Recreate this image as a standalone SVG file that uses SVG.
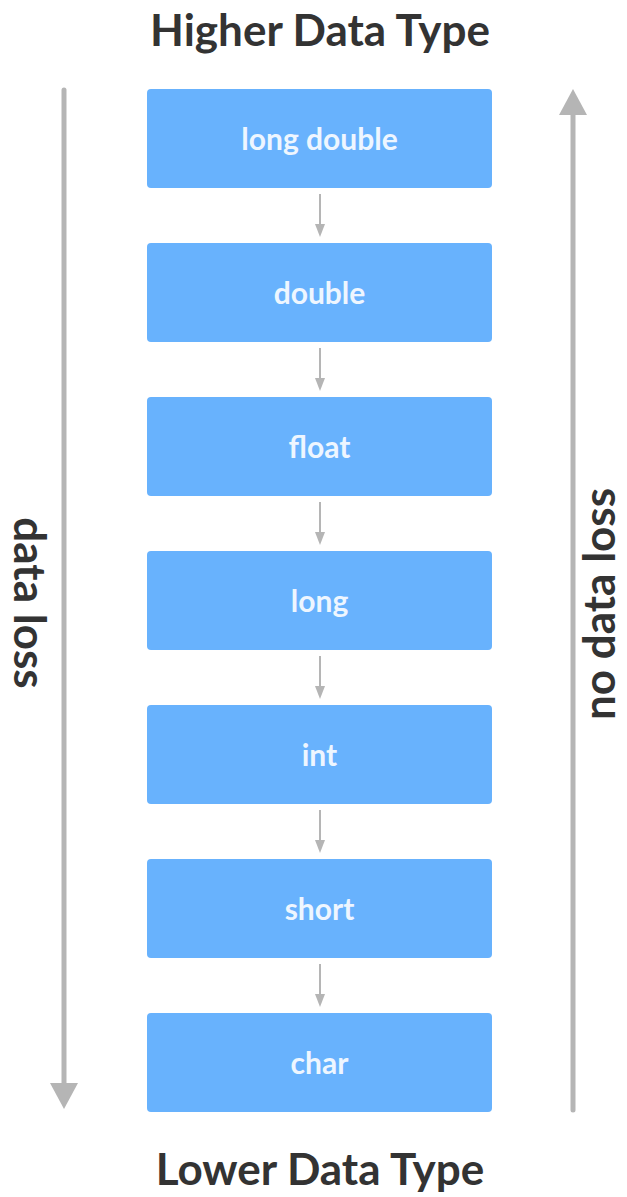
<svg xmlns="http://www.w3.org/2000/svg" width="627" height="1197" viewBox="0 0 627 1197">
  <defs>
    <style>
      .title { font-family: Lato, "Liberation Sans", sans-serif; font-weight: 700; font-size: 44px; fill: #333333; text-anchor: middle; }
      .side { font-family: Lato, "Liberation Sans", sans-serif; font-weight: 700; font-size: 44px; fill: #333333; text-anchor: middle; }
      .box { fill: #68b2fd; }
      .label { font-family: Lato, "Liberation Sans", sans-serif; font-weight: 700; font-size: 30px; fill: #eef6ff; text-anchor: middle; }
      .rail { stroke: #b5b5b5; stroke-width: 5; stroke-linecap: round; fill: none; }
      .step { stroke: #b5b5b5; stroke-width: 2; fill: none; }
      .head { fill: #b5b5b5; }
    </style>
  </defs>

  <text class="title" x="320" y="46">Higher Data Type</text>
  <text class="title" x="320" y="1185">Lower Data Type</text>

  <g id="connectors">
    <!-- long rails at the sides -->
    <line class="rail" x1="64" y1="90" x2="64" y2="1085"/>
    <polygon class="head" points="50,1083 78,1083 64,1109"/>
    <line class="rail" x1="573" y1="113" x2="573" y2="1110"/>
    <polygon class="head" points="559,115 587,115 573,89"/>

    <!-- small arrows between boxes -->
    <g>
      <line class="step" x1="320" y1="194" x2="320" y2="226"/>
      <polygon class="head" points="315,224 325,224 320,237"/>
      <line class="step" x1="320" y1="348" x2="320" y2="380"/>
      <polygon class="head" points="315,378 325,378 320,391"/>
      <line class="step" x1="320" y1="502" x2="320" y2="534"/>
      <polygon class="head" points="315,532 325,532 320,545"/>
      <line class="step" x1="320" y1="656" x2="320" y2="688"/>
      <polygon class="head" points="315,686 325,686 320,699"/>
      <line class="step" x1="320" y1="810" x2="320" y2="842"/>
      <polygon class="head" points="315,840 325,840 320,853"/>
      <line class="step" x1="320" y1="964" x2="320" y2="996"/>
      <polygon class="head" points="315,994 325,994 320,1007"/>
    </g>
  </g>

  <g id="n-long-double">
    <rect class="box" x="147" y="89" width="345" height="99" rx="4"/>
    <text class="label" x="319.5" y="150">long double</text>
  </g>
  <g id="n-double">
    <rect class="box" x="147" y="243" width="345" height="99" rx="4"/>
    <text class="label" x="319.5" y="304">double</text>
  </g>
  <g id="n-float">
    <rect class="box" x="147" y="397" width="345" height="99" rx="4"/>
    <text class="label" x="319.5" y="458">float</text>
  </g>
  <g id="n-long">
    <rect class="box" x="147" y="551" width="345" height="99" rx="4"/>
    <text class="label" x="319.5" y="612">long</text>
  </g>
  <g id="n-int">
    <rect class="box" x="147" y="705" width="345" height="99" rx="4"/>
    <text class="label" x="319.5" y="766">int</text>
  </g>
  <g id="n-short">
    <rect class="box" x="147" y="859" width="345" height="99" rx="4"/>
    <text class="label" x="319.5" y="920">short</text>
  </g>
  <g id="n-char">
    <rect class="box" x="147" y="1013" width="345" height="99" rx="4"/>
    <text class="label" x="319.5" y="1074">char</text>
  </g>

  <text class="side" transform="translate(14,603) rotate(90)">data loss</text>
  <text class="side" transform="translate(615,604) rotate(-90)">no data loss</text>
</svg>
